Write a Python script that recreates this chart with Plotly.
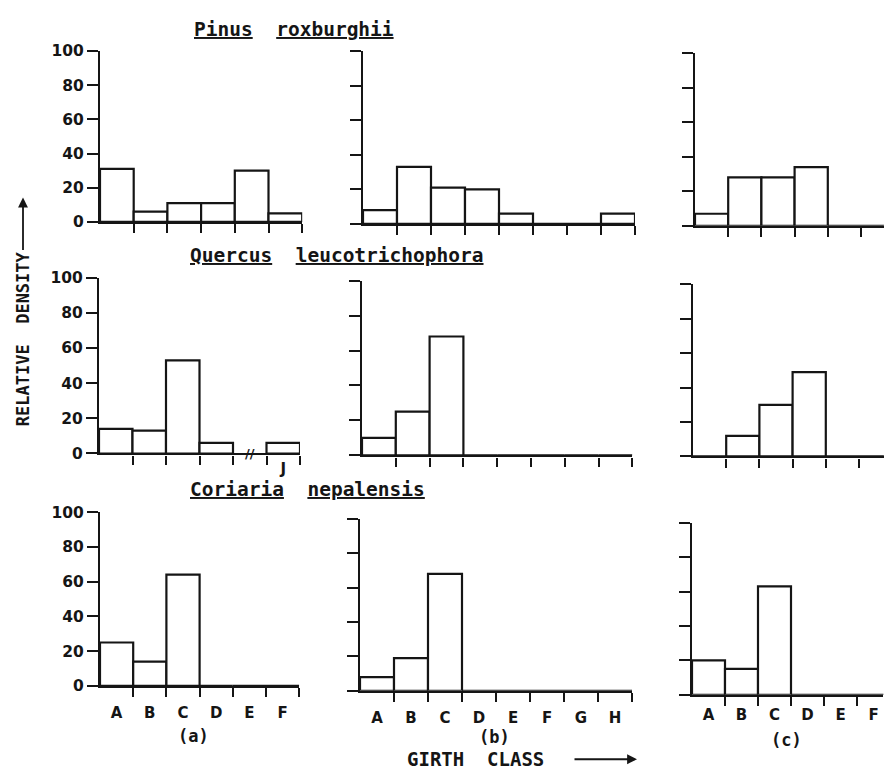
import plotly.graph_objects as go

W, H = 884, 778

# ---------------- data ----------------
classes_a = ["A", "B", "C", "D", "E", "F"]
classes_b = ["A", "B", "C", "D", "E", "F", "G", "H"]
classes_c = ["A", "B", "C", "D", "E", "F"]
classes_a_quercus = ["", "", "", "", "", "J"]   # slot 5 is the axis break

pinus_a = [31, 6, 11, 11, 30, 5]
pinus_b = [8, 33, 21, 20, 6, 0, 0, 6]
pinus_c = [7, 28, 28, 34, 0, 0]

quercus_a = [14, 13, 53, 6, None, 6]
quercus_b = [10, 25, 68, 0, 0, 0, 0, 0]
quercus_c = [0, 12, 30, 49, 0, 0]

coriaria_a = [25, 14, 64, 0, 0, 0]
coriaria_b = [8, 19, 68, 0, 0, 0, 0, 0]
coriaria_c = [20, 15, 63, 0, 0, 0]

y_ticks = [0, 20, 40, 60, 80, 100]
species = ["Pinus roxburghii", "Quercus leucotrichophora", "Coriaria nepalensis"]
panel_labels = ["(a)", "(b)", "(c)"]
y_title = "RELATIVE  DENSITY"
x_title = "GIRTH  CLASS"

values = [[pinus_a, pinus_b, pinus_c],
          [quercus_a, quercus_b, quercus_c],
          [coriaria_a, coriaria_b, coriaria_c]]
class_lists = [[classes_a, classes_b, classes_c],
               [classes_a_quercus, classes_b, classes_c],
               [classes_a, classes_b, classes_c]]

# ---------------- layout geometry (pixels) ----------------
# (x_left, class_width, visible_classes, y_top(100), y_bottom(0))
panels = [
    [(100, 33.7, 6, 43, 218), (363, 34.0, 8, 43, 220), (695, 33.2, 5.69, 45, 222)],
    [(99, 33.5, 6, 275, 455), (362, 33.8, 8, 278, 457), (693, 33.2, 5.75, 282, 458)],
    [(100, 33.2, 6, 515, 693), (360, 34.0, 8, 522, 698), (692, 33.0, 5.8, 526, 702)],
]
label_len = [[0, 0, 0], [0, 0, 0], [12, 12, 5]]

INK = "#151515"
FONT = "DejaVu Sans"
MONO = "DejaVu Sans Mono"

fig = go.Figure()
layout = dict(width=W, height=H, margin=dict(l=0, r=0, t=0, b=0),
              paper_bgcolor="white", plot_bgcolor="white", showlegend=False,
              autosize=False)

for r in range(3):
    for c in range(3):
        k = r * 3 + c + 1
        x0, cw, nvis, yt, yb = panels[r][c]
        vals = values[r][c]
        labels = class_lists[r][c]
        n = len(vals)
        centers = [i + 0.5 for i in range(n)]
        fig.add_trace(go.Bar(
            x=centers, y=vals, width=1.0,
            marker=dict(color="white", line=dict(color=INK, width=2.2)),
            xaxis=f"x{k}", yaxis=f"y{k}", hoverinfo="skip", showlegend=False))
        show_x = (r == 2) or (r == 1 and c == 0)
        layout[f"xaxis{k}"] = dict(
            domain=[x0 / W, (x0 + cw * nvis) / W], range=[0, nvis],
            anchor=f"y{k}", showline=True, linecolor=INK, linewidth=2.2,
            showgrid=False, zeroline=False,
            tickmode="array", tickvals=centers, ticktext=labels,
            ticks="outside", ticklen=label_len[r][c], tickcolor="rgba(0,0,0,0)",
            showticklabels=show_x,
            tickfont=dict(family=FONT, size=15, color=INK, weight="bold"),
            minor=dict(tickmode="array", tickvals=list(range(1, n + 1)),
                       ticks="outside", ticklen=9, tickwidth=2.2, tickcolor=INK,
                       showgrid=False),
            fixedrange=True)
        layout[f"yaxis{k}"] = dict(
            domain=[1 - yb / H, 1 - yt / H], range=[0, 100],
            anchor=f"x{k}", showline=True, linecolor=INK, linewidth=2.2,
            showgrid=False, zeroline=False,
            tickmode="array", tickvals=y_ticks,
            ticks="outside", ticklen=11, tickwidth=2.2, tickcolor=INK,
            showticklabels=(c == 0),
            tickfont=dict(family=FONT, size=15.5, color=INK, weight="bold"),
            fixedrange=True)

annotations = []
title_pos = [(192, 21), (188, 252), (188, 492)]
for name, (tx, ty) in zip(species, title_pos):
    text = "  ".join(f"<u>{w}</u>" for w in name.split())
    annotations.append(dict(text=text, xref="paper", yref="paper",
                            x=tx / W, y=1 - ty / H, xanchor="left", yanchor="middle",
                            showarrow=False,
                            font=dict(family=MONO, size=19.5, color=INK, weight="bold")))

for lab, (lx, ly) in zip(panel_labels, [(193, 744), (494, 745), (786, 748)]):
    annotations.append(dict(text=lab, xref="paper", yref="paper", x=lx / W, y=1 - ly / H,
                            xanchor="center", yanchor="middle", showarrow=False,
                            font=dict(family=MONO, size=17, color=INK, weight="bold")))

# axis break mark on Quercus (a)
annotations.append(dict(text="<b>//</b>", xref="x4", yref="y4", x=4.5, y=0,
                        xanchor="center", yanchor="middle", showarrow=False,
                        font=dict(family=FONT, size=13, color=INK)))

# y title and arrow
annotations.append(dict(text=y_title, xref="paper", yref="paper", x=23 / W, y=1 - 338 / H,
                        textangle=-90, xanchor="center", yanchor="middle", showarrow=False,
                        font=dict(family=MONO, size=17, color=INK, weight="bold")))
annotations.append(dict(text="", xref="paper", yref="paper", x=23 / W, y=1 - 193 / H,
                        ax=0, ay=54, showarrow=True, arrowhead=2, arrowsize=1.1,
                        arrowwidth=1.8, arrowcolor=INK))
# x title and arrow
annotations.append(dict(text=x_title, xref="paper", yref="paper", x=475 / W, y=1 - 768 / H,
                        xanchor="center", yanchor="middle", showarrow=False,
                        font=dict(family=MONO, size=19, color=INK, weight="bold")))
annotations.append(dict(text="", xref="paper", yref="paper", x=637 / W, y=1 - 768 / H,
                        ax=-64, ay=0, showarrow=True, arrowhead=2, arrowsize=1.1,
                        arrowwidth=1.8, arrowcolor=INK))

layout["annotations"] = annotations
fig.update_layout(**layout)
fig.write_html("out.html", config={"displayModeBar": False},
               post_script="document.body.style.margin='0';document.body.style.overflow='hidden';")
